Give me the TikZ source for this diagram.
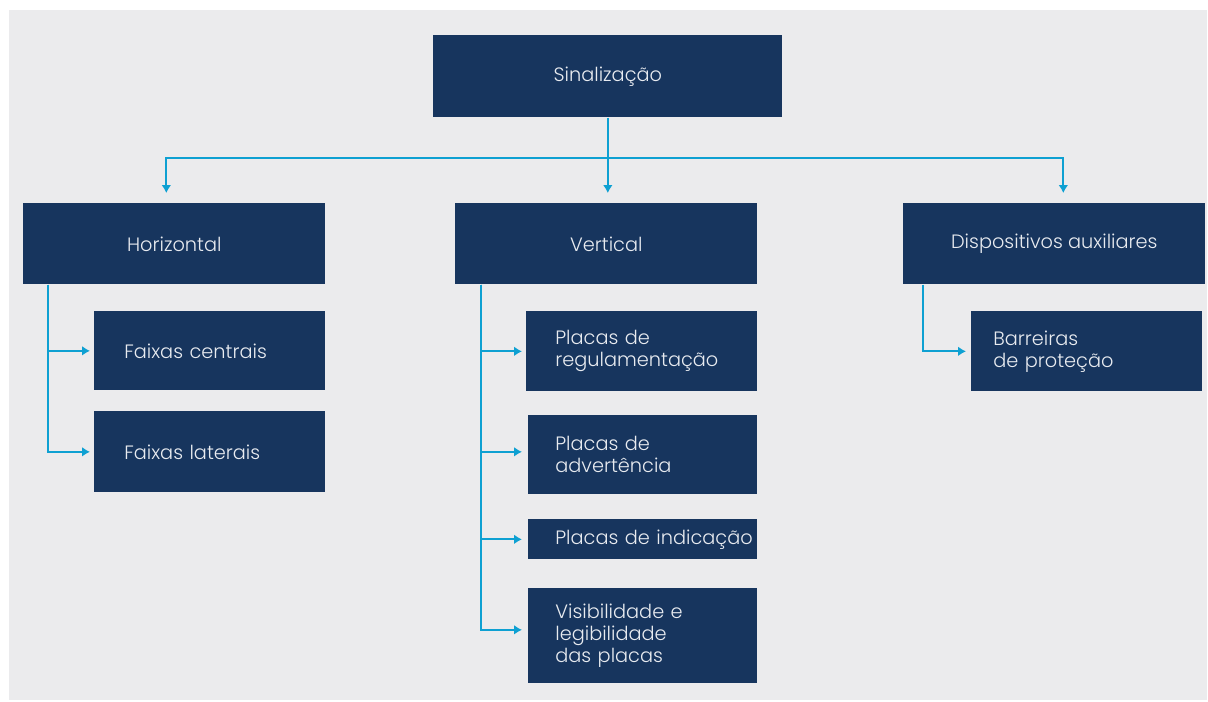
\documentclass[tikz,border=0pt]{standalone}
\usepackage{fontspec}
\setmainfont{Poppins}[UprightFont={* Light}]
\usepackage{tikz}
\usetikzlibrary{positioning,calc,arrows.meta}
\definecolor{azul}{HTML}{17355E}
\definecolor{ciano}{HTML}{0EA0D2}
\definecolor{fundo}{HTML}{EBEBED}
\definecolor{letra}{HTML}{E8EBF0}

\begin{document}
\begin{tikzpicture}[x=0.02cm,y=-0.02cm,
	caixa/.style={fill=azul,text=letra,inner sep=0pt,anchor=north west,font=\fontsize{11}{12.5}\selectfont},
	topo/.style={caixa,align=center,minimum width=6.04cm,minimum height=1.62cm},
	item/.style 2 args={caixa,align=left,text width=#1,execute at begin node={\leftskip=#2\relax}},
	seta/.style={draw=ciano,line width=1.1pt,-{Latex[length=4.5pt,width=5.5pt]}}]
	\useasboundingbox (0,0) rectangle (1208,702);
	\fill[fundo] (9,10) rectangle (1207,700);
	\node[topo,minimum width=6.98cm,minimum height=1.64cm] (sin) at (433,35) {Sinalização};
	\node[topo] (hor) at (23,203) {Horizontal};
	\node[topo] (ver) at (455,203) {Vertical};
	\node[topo] (dis) at (903,203) {Dispositivos auxiliares};
	\node[item={4.62cm}{0.6cm},minimum height=1.58cm] (fc) at (94,311) {Faixas centrais};
	\node[item={4.62cm}{0.6cm},minimum height=1.62cm] (fl) at (94,411) {Faixas laterais};
	\node[item={4.62cm}{0.58cm},minimum height=1.6cm] (reg) at (526,311) {Placas de\\regulamentação};
	\node[item={4.58cm}{0.54cm},minimum height=1.58cm] (adv) at (528,415) {Placas de\\advertência};
	\node[item={4.58cm}{0.54cm},minimum height=0.8cm] (ind) at (528,519) {Placas de indicação};
	\node[item={4.58cm}{0.54cm},minimum height=1.9cm] (vis) at (528,588) {Visibilidade e\\legibilidade\\das placas};
	\node[item={4.62cm}{0.44cm},minimum height=1.6cm] (bar) at (971,311) {Barreiras\\de proteção};
	\draw[draw=ciano,line width=1.1pt] (sin.south) -- ++(0,40) coordinate (junta);
	\draw[seta,shorten >=0.2cm] (junta) -| ($(hor.north)+(-8,0)$);
	\draw[seta,shorten >=0.2cm] (junta) -- (junta |- ver.north);
	\draw[seta,shorten >=0.2cm] (junta) -| ($(dis.north)+(9,0)$);
	\draw[seta,shorten >=0.08cm] ($(hor.south west)+(25,0)$) |- (fc.west);
	\draw[seta,shorten >=0.08cm] ($(hor.south west)+(25,0)$) |- (fl.west);
	\draw[seta,shorten >=0.08cm] ($(ver.south west)+(26,0)$) |- (reg.west);
	\draw[seta,shorten >=0.12cm] ($(ver.south west)+(26,0)$) |- ($(adv.west)+(0,-3)$);
	\draw[seta,shorten >=0.12cm] ($(ver.south west)+(26,0)$) |- (ind.west);
	\draw[seta,shorten >=0.12cm] ($(ver.south west)+(26,0)$) |- ($(vis.west)+(0,-6)$);
	\draw[seta,shorten >=0.1cm] ($(dis.south west)+(20,0)$) |- (bar.west);
\end{tikzpicture}
\end{document}
